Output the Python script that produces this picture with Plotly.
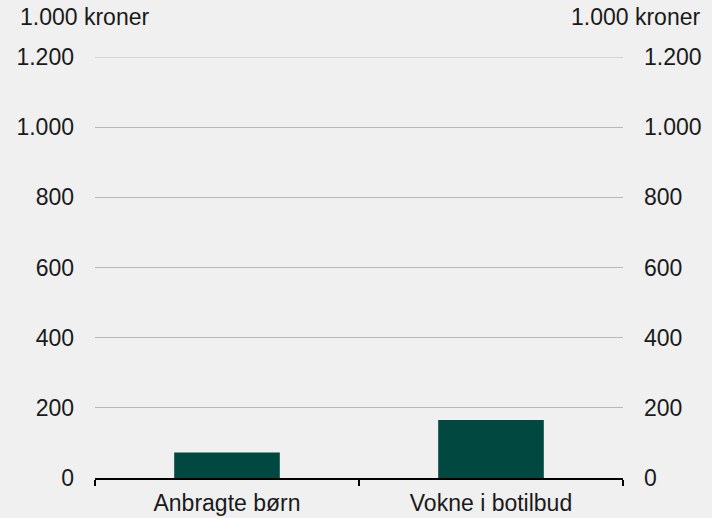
import plotly.graph_objects as go

categories = ["Anbragte børn", "Vokne i botilbud"]
values = [73, 165]
tick_vals = [0, 200, 400, 600, 800, 1000, 1200]
tick_text = ["0", "200", "400", "600", "800", "1.000", "1.200"]
unit_label = "1.000 kroner"

bg = "#eff0ef"
bar_color = "#004840"
grid_color = "#b8b8b8"
font = dict(family="Liberation Sans, Arial, sans-serif", size=23, color="#1a1a1a")

fig = go.Figure()
fig.add_trace(go.Bar(x=categories, y=values, marker=dict(color=bar_color, line=dict(width=0)),
                     width=0.4, showlegend=False))
fig.add_trace(go.Scatter(x=categories, y=values, yaxis="y2", mode="markers",
                         marker=dict(opacity=0), showlegend=False, hoverinfo="skip"))

fig.update_layout(
    width=712, height=518,
    paper_bgcolor=bg, plot_bgcolor=bg,
    margin=dict(l=95, r=89, t=57, b=40),
    font=font,
    separators=",.",
    xaxis=dict(type="category", showline=True, linecolor="#000000", linewidth=2,
               ticks="outside", tickson="boundaries", ticklen=6, tickcolor="#000000", tickwidth=2,
               showgrid=False, tickfont=font, range=[-0.5, 1.5], automargin=False,
               ticklabelstandoff=3),
    yaxis=dict(range=[0, 1200], tickvals=tick_vals, ticktext=tick_text, showgrid=True,
               gridcolor=grid_color, gridwidth=1, zeroline=False, showline=False,
               ticks="", tickfont=font, ticklabelstandoff=20, automargin=False),
    yaxis2=dict(range=[0, 1200], tickvals=tick_vals, ticktext=tick_text, overlaying="y",
                side="right", showgrid=False, zeroline=False, showline=False, ticks="",
                tickfont=font, ticklabelstandoff=20, automargin=False),
    shapes=[dict(type="line", xref="paper", yref="y", x0=0, x1=1,
                 y0=tick_vals[-1], y1=tick_vals[-1], line=dict(color=grid_color, width=1),
                 layer="below")],
    annotations=[
        dict(text=unit_label, xref="paper", yref="paper", x=-0.146, y=1.0, yshift=40,
             xanchor="left", yanchor="middle", showarrow=False, font=font),
        dict(text=unit_label, xref="paper", yref="paper", x=1.15, y=1.0, yshift=40,
             xanchor="right", yanchor="middle", showarrow=False, font=font),
    ],
)

fig.write_html("out.html", config={"displayModeBar": False},
               post_script="document.body.style.margin='0';document.body.style.background='#eff0ef';")
